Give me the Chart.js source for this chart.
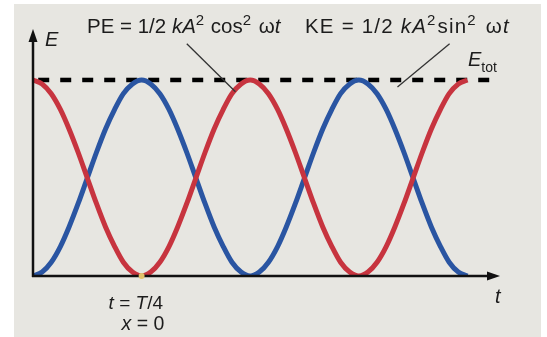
<!DOCTYPE html>
<html>
<head>
<meta charset="utf-8">
<script src="https://cdn.jsdelivr.net/npm/chart.js@4/dist/chart.umd.min.js"></script>
<style>
  html, body { margin: 0; padding: 0; background: #ffffff; }
  #wrap { width: 547px; height: 337px; position: relative; }
</style>
</head>
<body>
<div id="wrap"><canvas id="c" width="547" height="337"></canvas></div>
<script>
// Time in units of the period T
const tValues = [0,0.021,0.042,0.063,0.083,0.104,0.125,0.146,0.167,0.188,0.208,0.229,0.25,0.271,0.292,0.313,0.333,0.354,0.375,0.396,0.417,0.438,0.458,0.479,0.5,0.521,0.542,0.563,0.583,0.604,0.625,0.646,0.667,0.688,0.708,0.729,0.75,0.771,0.792,0.813,0.833,0.854,0.875,0.896,0.917,0.938,0.958,0.979,1];
// Potential energy (fraction of total)
const peValues = [1,0.98,0.93,0.85,0.75,0.63,0.5,0.37,0.25,0.15,0.07,0.02,0,0.02,0.07,0.15,0.25,0.37,0.5,0.63,0.75,0.85,0.93,0.98,1,0.98,0.93,0.85,0.75,0.63,0.5,0.37,0.25,0.15,0.07,0.02,0,0.02,0.07,0.15,0.25,0.37,0.5,0.63,0.75,0.85,0.93,0.98,1];
// Kinetic energy (fraction of total)
const keValues = [0,0.02,0.07,0.15,0.25,0.37,0.5,0.63,0.75,0.85,0.93,0.98,1,0.98,0.93,0.85,0.75,0.63,0.5,0.37,0.25,0.15,0.07,0.02,0,0.02,0.07,0.15,0.25,0.37,0.5,0.63,0.75,0.85,0.93,0.98,1,0.98,0.93,0.85,0.75,0.63,0.5,0.37,0.25,0.15,0.07,0.02,0];
// Total energy (dashed line)
const totT = [0.012, 1.055];
const totE = [1, 1];
// Marked instant
const markT = [0.25];
const markE = [0];

const toXY = (xs, ys) => xs.map((x, i) => ({ x: x, y: ys[i] }));

const FONT = '"Liberation Sans", Arial, Helvetica, sans-serif';

function drawRich(ctx, x, y, segs, size, spacing) {
  let cx = x;
  const sp = spacing || 0;
  for (const s of segs) {
    let fs = size, dy = 0;
    if (s.sup) { fs = Math.round(size * 0.72); dy = -size * 0.4; }
    if (s.sub) { fs = Math.round(size * 0.68); dy = size * 0.28; }
    ctx.font = (s.it ? 'italic ' : '') + fs + 'px ' + FONT;
    if (sp) {
      for (const ch of s.t) {
        ctx.fillText(ch, cx, y + dy);
        cx += ctx.measureText(ch).width + sp;
      }
    } else {
      ctx.fillText(s.t, cx, y + dy);
      cx += ctx.measureText(s.t).width;
    }
    cx += (s.gap || 0);
  }
}

const bgPlugin = {
  id: 'bg',
  beforeDraw(chart) {
    const ctx = chart.ctx;
    ctx.save();
    ctx.fillStyle = '#ffffff';
    ctx.fillRect(0, 0, chart.width, chart.height);
    ctx.fillStyle = '#e7e6e1';
    ctx.fillRect(14, 4, 527, 333);
    ctx.restore();
  }
};

function arrow(ctx, x1, y1, x2, y2, len, half) {
  const a = Math.atan2(y2 - y1, x2 - x1);
  ctx.beginPath();
  ctx.moveTo(x2, y2);
  ctx.lineTo(x2 - len * Math.cos(a) + half * Math.sin(a), y2 - len * Math.sin(a) - half * Math.cos(a));
  ctx.lineTo(x2 - len * Math.cos(a) - half * Math.sin(a), y2 - len * Math.sin(a) + half * Math.cos(a));
  ctx.closePath();
  ctx.fill();
}

const annoPlugin = {
  id: 'anno',
  afterDatasetsDraw(chart) {
    const ctx = chart.ctx;
    const xs = chart.scales.x, ys = chart.scales.y;
    const X = v => xs.getPixelForValue(v), Y = v => ys.getPixelForValue(v);
    const x0 = X(0), y0 = Y(0);
    const area = chart.chartArea;
    ctx.save();
    ctx.strokeStyle = '#111';
    ctx.fillStyle = '#111';
    ctx.lineWidth = 2.5;
    // y axis
    ctx.beginPath(); ctx.moveTo(x0, y0 + 1); ctx.lineTo(x0, area.top + 8); ctx.stroke();
    arrow(ctx, x0, y0, x0, area.top, 13, 4.5);
    // x axis
    ctx.beginPath(); ctx.moveTo(x0 - 1, y0); ctx.lineTo(area.right - 8, y0); ctx.stroke();
    arrow(ctx, x0, y0, area.right, y0, 13, 4.5);

    // marker dot at T/4
    ctx.fillStyle = '#e2c26a';
    ctx.beginPath(); ctx.arc(X(markT[0]), Y(markE[0]), 3, 0, Math.PI * 2); ctx.fill();

    // leader lines
    ctx.strokeStyle = '#333';
    ctx.lineWidth = 1.3;
    ctx.beginPath(); ctx.moveTo(X(0.354), Y(1.185)); ctx.lineTo(X(0.466), Y(0.94)); ctx.stroke();
    ctx.beginPath(); ctx.moveTo(X(0.959), Y(1.185)); ctx.lineTo(X(0.839), Y(0.964)); ctx.stroke();

    // texts
    ctx.fillStyle = '#1c1c1c';
    ctx.textBaseline = 'alphabetic';
    const S = 20.5;
    drawRich(ctx, 87, 33, [{t:'PE = 1/2 '},{t:'kA',it:1},{t:'2',sup:1,gap:1},{t:' cos'},{t:'2',sup:1,gap:2},{t:' ω'},{t:'t',it:1}], S);
    drawRich(ctx, 305, 33, [{t:'KE = 1/2 '},{t:'kA',it:1},{t:'2',sup:1,gap:1},{t:'sin'},{t:'2',sup:1,gap:2},{t:' ω'},{t:'t',it:1}], S, 1.2);
    drawRich(ctx, 468, 66, [{t:'E',it:1},{t:'tot',sub:1}], 20);
    drawRich(ctx, 45, 46, [{t:'E',it:1}], 20);
    drawRich(ctx, area.right - 5, 303, [{t:'t',it:1}], 20);
    // T/4 labels
    const mx = X(markT[0]);
    drawRich(ctx, mx - 33, 309, [{t:'t',it:1},{t:' = '},{t:'T',it:1},{t:'/4'}], 19);
    drawRich(ctx, mx - 20, 330, [{t:'x',it:1},{t:' = 0'}], 19.5);
    ctx.restore();
  }
};

new Chart(document.getElementById('c'), {
  type: 'line',
  data: {
    datasets: [
      { label: 'PE', data: toXY(tValues, peValues), borderColor: '#c7343f', borderWidth: 5, pointRadius: 0, cubicInterpolationMode: 'monotone', fill: false },
      { label: 'KE', data: toXY(tValues, keValues), borderColor: '#2a55a2', borderWidth: 5, pointRadius: 0, cubicInterpolationMode: 'monotone', fill: false },
      { label: 'Etot', data: toXY(totT, totE), borderColor: '#000', borderWidth: 4.5, borderDash: [11, 11], pointRadius: 0, fill: false }
    ]
  },
  options: {
    responsive: false,
    animation: false,
    events: [],
    layout: { padding: { left: 33, right: 47, top: 29, bottom: 61 } },
    plugins: { legend: { display: false }, tooltip: { enabled: false } },
    scales: {
      x: { type: 'linear', min: 0, max: 1.075, display: false },
      y: { type: 'linear', min: 0, max: 1.26, display: false }
    }
  },
  plugins: [bgPlugin, annoPlugin]
});
</script>
</body>
</html>
